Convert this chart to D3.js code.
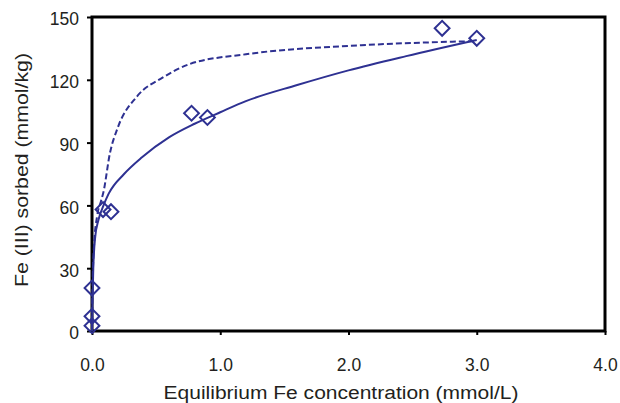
<!DOCTYPE html>
<html>
<head>
<meta charset="utf-8">
<script src="https://cdn.jsdelivr.net/npm/d3@7"></script>
<style>
  body { margin: 0; background: #fff; }
  text { font-family: Arial, "Liberation Sans", sans-serif; fill: #231f20; }
</style>
</head>
<body>
<svg id="chart"></svg>
<script>
// measured points (diamonds)
const obsX = [0.0, 0.0, 0.0, 0.086, 0.148, 0.776, 0.90, 2.73, 3.0];
const obsY = [2.5, 7, 20.5, 58, 57, 104, 102, 144.6, 139.8];

// solid fitted curve
const fitSolidX = [0, 0.003, 0.01, 0.025, 0.05, 0.09, 0.13, 0.25, 0.39, 0.6, 0.8, 1.0, 1.2, 1.6, 2.0, 2.45, 3.0];
const fitSolidY = [0, 12, 30, 45, 53, 60, 65.6, 75, 83, 92.5, 99, 104.5, 109.8, 117.5, 124.5, 131.3, 139];

// dashed fitted curve
const fitDashX = [0, 0.004, 0.015, 0.04, 0.07, 0.088, 0.14, 0.2, 0.35, 0.55, 0.76, 1.2, 2.1, 3.0];
const fitDashY = [0, 20, 40, 55, 62, 66, 85, 97, 112, 121, 127.5, 132.2, 136.5, 138.5];

const xTicks = [0, 1, 2, 3, 4];
const yTicks = [0, 30, 60, 90, 120, 150];

const xLabel = 'Equilibrium Fe concentration (mmol/L)';
const yLabel = 'Fe (III) sorbed (mmol/kg)';

const W = 620, H = 403;
const margin = { top: 17, right: 15, bottom: 72, left: 92 };
const width = W - margin.left - margin.right;
const height = H - margin.top - margin.bottom;
const blue = '#2e3192';

const svg = d3.select('#chart').attr('width', W).attr('height', H);
const chart = svg.append('g').attr('transform', `translate(${margin.left},${margin.top})`);

const xScale = d3.scaleLinear().domain([0, 4]).range([0, width]);
const yScale = d3.scaleLinear().domain([0, 150]).range([height, 0]);

// axes
const xAxis = d3.axisBottom(xScale).tickValues(xTicks).tickSize(4).tickSizeOuter(0)
    .tickPadding(24).tickFormat(d3.format('.1f'));
const yAxis = d3.axisLeft(yScale).tickValues(yTicks).tickSize(5).tickSizeOuter(0)
    .tickPadding(8);

const xAxisG = chart.append('g').attr('transform', `translate(0,${height})`).call(xAxis);
const yAxisG = chart.append('g').call(yAxis);

[xAxisG, yAxisG].forEach(g => {
  g.select('.domain').remove();
  g.selectAll('.tick line').attr('stroke', '#000').attr('stroke-width', 2);
  g.selectAll('.tick text').style('font-size', '17.5px')
      .style('font-family', 'Arial, "Liberation Sans", sans-serif').attr('fill', '#231f20');
});
yAxisG.selectAll('.tick text').attr('dy', '0.45em');

// plot frame
chart.append('rect')
    .attr('width', width)
    .attr('height', height)
    .attr('fill', 'none')
    .attr('stroke', '#000')
    .attr('stroke-width', 3);

// curves
const line = d3.line()
    .x(d => xScale(d[0]))
    .y(d => yScale(d[1]))
    .curve(d3.curveMonotoneX);

chart.append('path')
    .datum(fitDashX.map((x, i) => [x, fitDashY[i]]))
    .attr('d', line)
    .attr('fill', 'none')
    .attr('stroke', blue)
    .attr('stroke-width', 2)
    .attr('stroke-dasharray', '6,3');

chart.append('path')
    .datum(fitSolidX.map((x, i) => [x, fitSolidY[i]]))
    .attr('d', line)
    .attr('fill', 'none')
    .attr('stroke', blue)
    .attr('stroke-width', 2);

// diamonds
const diamond = d3.symbol().type(d3.symbolSquare).size(110);
chart.selectAll('.obs')
    .data(obsX.map((x, i) => [x, obsY[i]]))
    .join('path')
    .attr('class', 'obs')
    .attr('d', diamond)
    .attr('transform', d => `translate(${xScale(d[0])},${yScale(d[1])}) rotate(45)`)
    .attr('fill', 'none')
    .attr('stroke', blue)
    .attr('stroke-width', 2);

// axis titles
chart.append('text')
    .attr('x', 341 - margin.left)
    .attr('y', height + 68)
    .attr('text-anchor', 'middle')
    .attr('textLength', 355)
    .attr('lengthAdjust', 'spacingAndGlyphs')
    .style('font-size', '18px')
    .text(xLabel);

chart.append('text')
    .attr('transform', 'rotate(-90)')
    .attr('x', -(170 - margin.top))
    .attr('y', 27.5 - margin.left)
    .attr('text-anchor', 'middle')
    .attr('textLength', 234)
    .attr('lengthAdjust', 'spacingAndGlyphs')
    .style('font-size', '18.5px')
    .text(yLabel);
</script>
</body>
</html>
